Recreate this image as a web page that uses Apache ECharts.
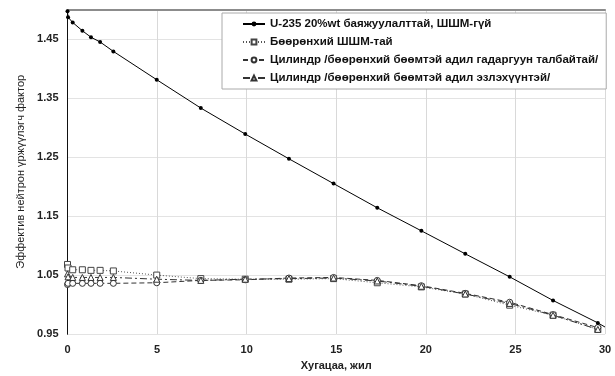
<!DOCTYPE html>
<html>
<head>
<meta charset="utf-8">
<script src="https://cdn.jsdelivr.net/npm/echarts@6/dist/echarts.min.js"></script>
<style>
  html, body { margin: 0; padding: 0; background: #fff; }
  #chart { width: 615px; height: 376px; }
</style>
</head>
<body>
<div id="chart"></div>
<script>
// хугацаа, жил
var years = [0, 0.03, 0.29, 0.83, 1.31, 1.82, 2.56, 4.98, 7.44, 9.92, 12.36, 14.85, 17.29, 19.75, 22.2, 24.68, 27.1, 29.6]

// keff утгууд
var kU235 = [1.497, 1.487, 1.478, 1.464, 1.453, 1.445, 1.429, 1.381, 1.333, 1.289, 1.247, 1.205, 1.164, 1.125, 1.086, 1.047, 1.007, 0.969]
var kSphere = [1.068, 1.062, 1.059, 1.059, 1.058, 1.058, 1.057, 1.050, 1.044, 1.043, 1.043, 1.044, 1.037, 1.030, 1.018, 0.999, 0.982, 0.958]
var kCylArea = [1.034, 1.036, 1.036, 1.036, 1.036, 1.036, 1.036, 1.037, 1.041, 1.042, 1.045, 1.046, 1.041, 1.032, 1.019, 1.004, 0.983, 0.961]
var kCylVol = [1.052, 1.047, 1.046, 1.046, 1.046, 1.046, 1.046, 1.043, 1.041, 1.043, 1.044, 1.045, 1.040, 1.031, 1.018, 1.002, 0.982, 0.958]

// шугам хүрээ хүртэл үргэлжилнэ
var endYear = 30
var endU235 = 0.962

var names = [
  'U-235 20%wt баяжуулалттай, ШШМ-гүй',
  'Бөөрөнхий ШШМ-тай',
  'Цилиндр /бөөрөнхий бөөмтэй адил гадаргуун талбайтай/',
  'Цилиндр /бөөрөнхий бөөмтэй адил эзлэхүүнтэй/'
]

function pairs(ys) {
  var res = []
  for (var i = 0; i < years.length; i++) {
    res.push([years[i], ys[i]])
  }
  return res
}

var u235Data = pairs(kU235)
u235Data.push({ value: [endYear, endU235], symbol: 'none' })

var myChart = echarts.init(document.getElementById('chart'))

var labelFont = 'Liberation Sans'

var option = {
  animation: false,
  backgroundColor: '#fff',
  grid: { left: 67.5, right: 10, top: 9.5, bottom: 35 },
  legend: {
    orient: 'vertical',
    left: 222,
    top: 13,
    padding: [5, 8, 5, 20],
    itemGap: 6,
    itemWidth: 22,
    itemHeight: 6,
    backgroundColor: '#fff',
    borderColor: '#aaa',
    borderWidth: 1,
    textStyle: { fontFamily: labelFont, fontWeight: 'bold', fontSize: 11.5, color: '#111' },
    data: names
  },
  xAxis: [
    {
      type: 'value',
      min: 0,
      max: 30,
      interval: 5,
      name: 'Хугацаа, жил',
      nameLocation: 'middle',
      nameGap: 22,
      nameTextStyle: { fontFamily: labelFont, fontWeight: 'bold', fontSize: 11, color: '#222' },
      axisLine: { show: false },
      axisTick: { show: false },
      axisLabel: { fontFamily: labelFont, fontWeight: 'bold', fontSize: 11, color: '#222', margin: 10 },
      splitLine: { lineStyle: { color: '#d9d9d9', width: 1 } }
    },
    {
      type: 'value',
      position: 'top',
      min: 0,
      max: 30,
      axisLine: { show: true, lineStyle: { color: '#8c8c8c', width: 2 } },
      axisTick: { show: false },
      axisLabel: { show: false },
      splitLine: { show: false }
    }
  ],
  yAxis: [
    {
      type: 'value',
      min: 0.95,
      max: 1.5,
      interval: 0.1,
      name: 'Эффектив нейтрон үржүүлэгч фактор',
      nameLocation: 'middle',
      nameGap: 40,
      nameTextStyle: { fontFamily: labelFont, fontSize: 11, color: '#222' },
      axisLine: { show: true, lineStyle: { color: '#555', width: 1 } },
      axisTick: { show: false },
      axisLabel: {
        fontFamily: labelFont, fontWeight: 'bold', fontSize: 11, color: '#222', margin: 9,
        showMaxLabel: false,
        formatter: function (v) { return v.toFixed(2) }
      },
      splitLine: { lineStyle: { color: '#e3e3e3', width: 1 } }
    },
    {
      type: 'value',
      position: 'right',
      min: 0.95,
      max: 1.5,
      axisLine: { show: true, lineStyle: { color: '#111', width: 1 } },
      axisTick: { show: false },
      axisLabel: { show: false },
      splitLine: { show: false }
    }
  ],
  series: [
    {
      name: names[0],
      type: 'line',
      data: u235Data,
      symbol: 'circle',
      symbolSize: 4,
      itemStyle: { color: '#000' },
      lineStyle: { color: '#000', width: 1 },
      z: 5
    },
    {
      name: names[1],
      type: 'line',
      data: pairs(kSphere),
      symbol: 'rect',
      symbolSize: 6,
      itemStyle: { color: '#fff', borderColor: '#444', borderWidth: 1 },
      lineStyle: { color: '#555', width: 1, type: [1, 2] }
    },
    {
      name: names[2],
      type: 'line',
      data: pairs(kCylArea),
      symbol: 'circle',
      symbolSize: 6,
      itemStyle: { color: '#fff', borderColor: '#333', borderWidth: 1 },
      lineStyle: { color: '#333', width: 1, type: [5, 3] }
    },
    {
      name: names[3],
      type: 'line',
      data: pairs(kCylVol),
      symbol: 'triangle',
      symbolSize: 6,
      itemStyle: { color: '#fff', borderColor: '#333', borderWidth: 1 },
      lineStyle: { color: '#333', width: 1, type: [7, 3, 2, 3] }
    }
  ]
}

myChart.setOption(option)
</script>
</body>
</html>
